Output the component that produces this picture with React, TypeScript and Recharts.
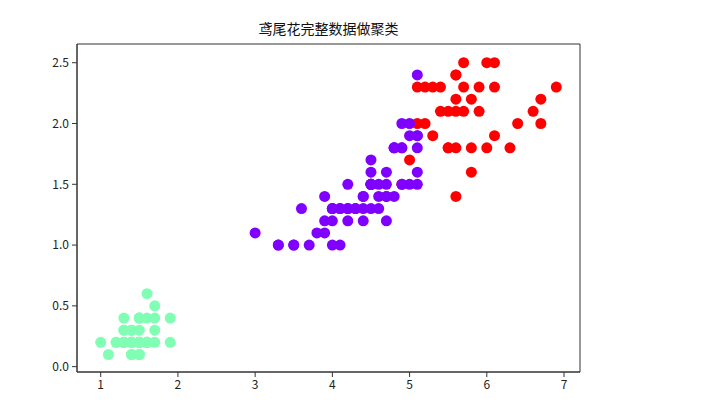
import {
  ScatterChart,
  Scatter,
  XAxis,
  YAxis,
  ReferenceArea,
} from "recharts";

// iris petal length / width, index order (setosa, versicolor, virginica)
const petalLength = [
  1.4, 1.4, 1.3, 1.5, 1.4, 1.7, 1.4, 1.5, 1.4, 1.5, 1.5, 1.6, 1.4, 1.1, 1.2, 1.5, 1.3, 1.4, 1.7, 1.5,
  1.7, 1.5, 1.0, 1.7, 1.9, 1.6, 1.6, 1.5, 1.4, 1.6, 1.6, 1.5, 1.5, 1.4, 1.5, 1.2, 1.3, 1.4, 1.3, 1.5,
  1.3, 1.3, 1.3, 1.6, 1.9, 1.4, 1.6, 1.4, 1.5, 1.4,
  4.7, 4.5, 4.9, 4.0, 4.6, 4.5, 4.7, 3.3, 4.6, 3.9, 3.5, 4.2, 4.0, 4.7, 3.6, 4.4, 4.5, 4.1, 4.5, 3.9,
  4.8, 4.0, 4.9, 4.7, 4.3, 4.4, 4.8, 5.0, 4.5, 3.5, 3.8, 3.7, 3.9, 5.1, 4.5, 4.5, 4.7, 4.4, 4.1, 4.0,
  4.4, 4.6, 4.0, 3.3, 4.2, 4.2, 4.2, 4.3, 3.0, 4.1,
  6.0, 5.1, 5.9, 5.6, 5.8, 6.6, 4.5, 6.3, 5.8, 6.1, 5.1, 5.3, 5.5, 5.0, 5.1, 5.3, 5.5, 6.7, 6.9, 5.0,
  5.7, 4.9, 6.7, 4.9, 5.7, 6.0, 4.8, 4.9, 5.6, 5.8, 6.1, 6.4, 5.6, 5.1, 5.6, 6.1, 5.6, 5.5, 4.8, 5.4,
  5.6, 5.1, 5.1, 5.9, 5.7, 5.2, 5.0, 5.2, 5.4, 5.1,
];

const petalWidth = [
  0.2, 0.2, 0.2, 0.2, 0.2, 0.4, 0.3, 0.2, 0.2, 0.1, 0.2, 0.2, 0.1, 0.1, 0.2, 0.4, 0.4, 0.3, 0.3, 0.3,
  0.2, 0.4, 0.2, 0.5, 0.2, 0.2, 0.4, 0.2, 0.2, 0.2, 0.2, 0.4, 0.1, 0.2, 0.2, 0.2, 0.2, 0.1, 0.2, 0.2,
  0.3, 0.3, 0.2, 0.6, 0.4, 0.3, 0.2, 0.2, 0.2, 0.2,
  1.4, 1.5, 1.5, 1.3, 1.5, 1.3, 1.6, 1.0, 1.3, 1.4, 1.0, 1.5, 1.0, 1.4, 1.3, 1.4, 1.5, 1.0, 1.5, 1.1,
  1.8, 1.3, 1.5, 1.2, 1.3, 1.4, 1.4, 1.7, 1.5, 1.0, 1.1, 1.0, 1.2, 1.6, 1.5, 1.6, 1.5, 1.3, 1.3, 1.3,
  1.2, 1.4, 1.2, 1.0, 1.3, 1.2, 1.3, 1.3, 1.1, 1.3,
  2.5, 1.9, 2.1, 1.8, 2.2, 2.1, 1.7, 1.8, 1.8, 2.5, 2.0, 1.9, 2.1, 2.0, 2.4, 2.3, 1.8, 2.2, 2.3, 1.5,
  2.3, 2.0, 2.0, 1.8, 2.1, 1.8, 1.8, 1.8, 2.1, 1.6, 1.9, 2.0, 2.2, 1.5, 1.4, 2.3, 2.4, 1.8, 1.8, 2.1,
  2.4, 2.3, 1.9, 2.3, 2.5, 2.3, 1.9, 2.0, 2.3, 1.8,
];

// k-means labels (0 purple, 1 green, 2 red)
const clusters = [
  1, 1, 1, 1, 1, 1, 1, 1, 1, 1, 1, 1, 1, 1, 1, 1, 1, 1, 1, 1, 1, 1, 1, 1, 1, 1, 1, 1, 1, 1,
  1, 1, 1, 1, 1, 1, 1, 1, 1, 1, 1, 1, 1, 1, 1, 1, 1, 1, 1, 1,
  0, 0, 2, 0, 0, 0, 0, 0, 0, 0, 0, 0, 0, 0, 0, 0, 0, 0, 0, 0, 0, 0, 0, 0, 0, 0, 0, 2, 0, 0,
  0, 0, 0, 0, 0, 0, 0, 0, 0, 0, 0, 0, 0, 0, 0, 0, 0, 0, 0, 0,
  2, 0, 2, 2, 2, 2, 0, 2, 2, 2, 2, 2, 2, 0, 0, 2, 2, 2, 2, 0, 2, 0, 2, 0, 2, 2, 0, 0, 2, 2,
  2, 2, 2, 0, 2, 2, 2, 2, 0, 2, 2, 2, 0, 2, 2, 2, 0, 2, 2, 0,
];

const clusterColors = ["#8000ff", "#80ffb4", "#ff0000"];

const xTicks = [1, 2, 3, 4, 5, 6, 7];
const yTicks = [0, 0.5, 1.0, 1.5, 2.0, 2.5];

const title = "鸢尾花完整数据做聚类";

const xDomain = [0.693, 7.207];
const yDomain = [-0.044, 2.654];

const points = petalLength.map((x, i) => ({
  x,
  y: petalWidth[i],
  color: clusterColors[clusters[i]],
}));

const Dot = (props: any) => {
  const { cx, cy, payload } = props;
  return <circle cx={cx} cy={cy} r={5.5} fill={payload.color} />;
};

export default function App() {
  const font = '"Noto Sans CJK SC", "DejaVu Sans", sans-serif';
  return (
    <div
      style={{
        position: "absolute",
        left: 0,
        top: 0,
        width: 710,
        height: 408,
        background: "#fff",
        fontFamily: font,
      }}
    >
      <div
        style={{
          position: "absolute",
          left: 77,
          width: 503,
          top: 19,
          textAlign: "center",
          fontSize: 14,
          color: "#111",
          lineHeight: "18px",
        }}
      >
        {title}
      </div>
      <ScatterChart
        width={710}
        height={408}
        margin={{ top: 44, right: 130, bottom: 6, left: 37 }}
      >
        <XAxis
          type="number"
          dataKey="x"
          domain={xDomain}
          ticks={xTicks}
          allowDataOverflow
          height={30}
          tickSize={5}
          tickMargin={3}
          stroke="#333"
          tick={{ fill: "#222", fontSize: 12, fontFamily: font }}
        />
        <YAxis
          type="number"
          dataKey="y"
          domain={yDomain}
          ticks={yTicks}
          allowDataOverflow
          width={40}
          tickSize={5}
          tickMargin={3}
          stroke="#333"
          tickFormatter={(v: number) => v.toFixed(1)}
          tick={{ fill: "#222", fontSize: 12, fontFamily: font }}
        />
        <ReferenceArea
          x1={xDomain[0]}
          x2={xDomain[1]}
          y1={yDomain[0]}
          y2={yDomain[1]}
          fill="none"
          fillOpacity={0}
          stroke="#333"
          strokeWidth={1}
        />
        <Scatter data={points} shape={Dot} isAnimationActive={false} />
      </ScatterChart>
    </div>
  );
}
